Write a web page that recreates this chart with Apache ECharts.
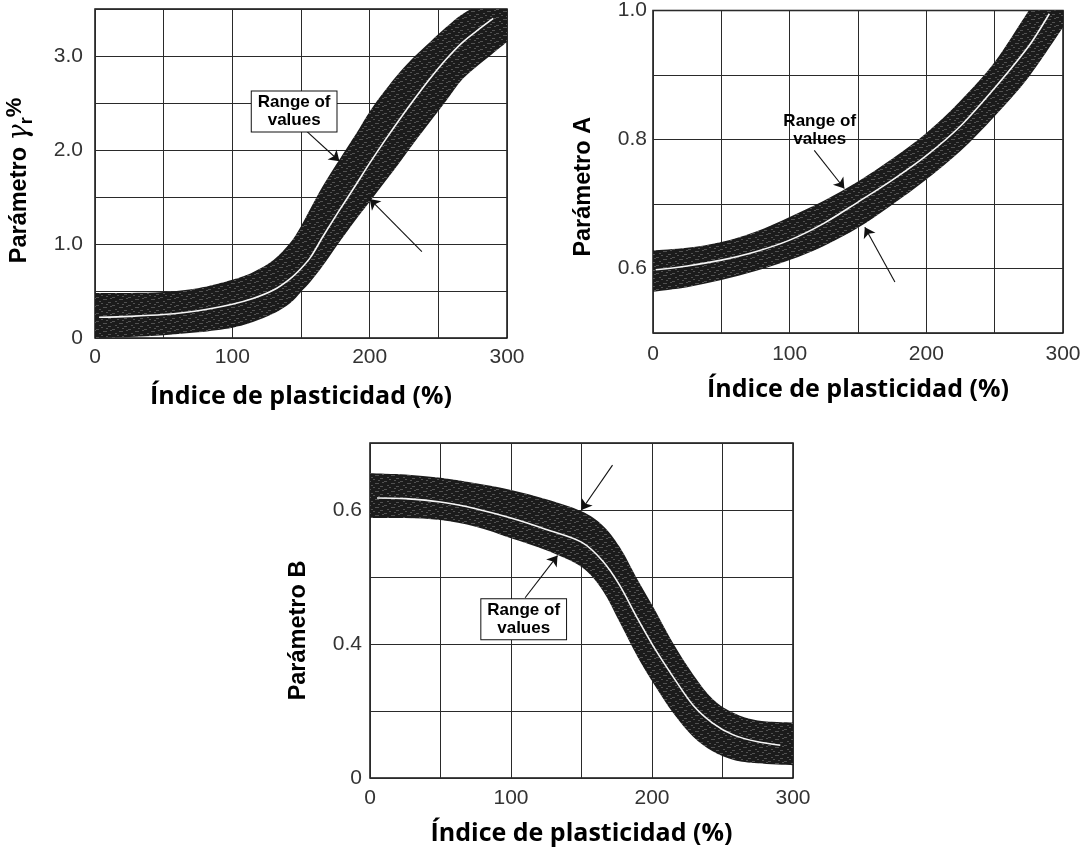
<!DOCTYPE html>
<html>
<head>
<meta charset="utf-8">
<script src="https://cdn.jsdelivr.net/npm/echarts@6/dist/echarts.min.js"></script>
<style>
  html, body { margin: 0; padding: 0; background: #ffffff; }
  #chart { width: 1084px; height: 850px; }
</style>
</head>
<body>
<div id="chart"></div>
<script>
// ---- Parámetro γr (%) vs plasticity index ----
const PI_BAND_G = [0, 25, 50, 75, 100, 115, 130, 142, 150, 157, 166, 178, 190, 200, 211, 222, 233, 244, 256, 268, 284, 300];
const GAMMA_UPPER = [0.48, 0.48, 0.49, 0.53, 0.62, 0.70, 0.83, 1.01, 1.19, 1.38, 1.62, 1.90, 2.17, 2.41, 2.63, 2.83, 3.00, 3.15, 3.31, 3.45, 3.57, 3.65];
const GAMMA_LOWER = [0.00, 0.01, 0.03, 0.06, 0.11, 0.17, 0.26, 0.37, 0.49, 0.60, 0.77, 1.02, 1.26, 1.45, 1.66, 1.87, 2.09, 2.30, 2.53, 2.76, 2.96, 3.15];
const PI_MID_G = [3, 25, 50, 75, 100, 115, 130, 142, 150, 157, 166, 178, 190, 200, 211, 222, 233, 244, 256, 268, 280, 290];
const GAMMA_MID = [0.22, 0.23, 0.25, 0.29, 0.36, 0.42, 0.51, 0.63, 0.74, 0.86, 1.08, 1.36, 1.63, 1.86, 2.10, 2.33, 2.55, 2.76, 2.97, 3.15, 3.29, 3.40];

// ---- Parámetro A vs plasticity index ----
const PI_BAND_A = [0, 25, 50, 75, 100, 125, 150, 175, 200, 225, 250, 275, 300];
const A_UPPER = [0.628, 0.632, 0.641, 0.657, 0.680, 0.705, 0.735, 0.770, 0.810, 0.860, 0.920, 1.000, 1.075];
const A_LOWER = [0.564, 0.571, 0.582, 0.596, 0.613, 0.635, 0.663, 0.699, 0.738, 0.782, 0.836, 0.897, 0.974];
const PI_MID_A = [2, 25, 50, 75, 100, 125, 150, 175, 200, 225, 250, 275, 290];
const A_MID = [0.598, 0.604, 0.613, 0.626, 0.644, 0.670, 0.703, 0.737, 0.775, 0.821, 0.880, 0.945, 0.995];

// ---- Parámetro B vs plasticity index ----
const PI_BAND_B = [0, 25, 50, 75, 100, 125, 150, 165, 177, 190, 202, 215, 229, 243, 258, 275, 300];
const B_UPPER = [0.655, 0.653, 0.648, 0.640, 0.630, 0.616, 0.598, 0.577, 0.545, 0.495, 0.451, 0.401, 0.355, 0.318, 0.297, 0.286, 0.283];
const B_LOWER = [0.588, 0.588, 0.585, 0.575, 0.558, 0.540, 0.515, 0.480, 0.433, 0.380, 0.338, 0.297, 0.262, 0.240, 0.227, 0.222, 0.219];
const PI_MID_B = [5, 25, 50, 75, 100, 125, 150, 165, 177, 190, 202, 215, 229, 243, 258, 275, 291];
const B_MID = [0.618, 0.617, 0.612, 0.602, 0.588, 0.571, 0.552, 0.524, 0.488, 0.437, 0.393, 0.351, 0.309, 0.282, 0.264, 0.254, 0.249];

// ---- tick labels: [axis value, printed text] ----
const X_TICK_LABELS = [[0, '0'], [100, '100'], [200, '200'], [300, '300']];
const GAMMA_TICK_LABELS = [[0, '0'], [1, '1.0'], [2, '2.0'], [3, '3.0']];
const A_TICK_LABELS = [[0.6, '0.6'], [0.8, '0.8'], [1.0, '1.0']];
const B_TICK_LABELS = [[0.2, '0'], [0.4, '0.4'], [0.6, '0.6']];

// ---- annotations (data coordinates) ----
const NOTE_TEXT = 'Range of\nvalues';
const NOTE_G = [145, 2.41];
const ARROWS_G = [[[154, 2.20], [178, 1.88]], [[238, 0.92], [200, 1.48]]];
const NOTE_A = [122, 0.814];
const ARROWS_A = [[[118, 0.783], [140, 0.724]], [[177, 0.579], [155, 0.664]]];
const NOTE_B = [109, 0.437];
const ARROWS_B = [[[110, 0.469], [133, 0.532]], [[172, 0.667], [150, 0.600]]];

const X_TITLE = 'Índice de plasticidad (%)';

// grainy dark fill for the range band
function bandPattern() {
  const c = document.createElement('canvas');
  c.width = 16; c.height = 8;
  const ctx = c.getContext('2d');
  ctx.fillStyle = '#1b1b1b';
  ctx.fillRect(0, 0, 16, 8);
  ctx.fillStyle = 'rgba(125,125,125,0.55)';
  [[0, 1, 3, 1], [7, 3, 4, 1], [12, 6, 3, 1], [3, 5, 2, 1], [10, 0, 2, 1], [5, 7, 2, 1], [14, 2, 2, 1]]
    .forEach(r => ctx.fillRect(r[0], r[1], r[2], r[3]));
  return { image: c, repeat: 'repeat' };
}
const BAND_FILL = bandPattern();

const pairs = (xs, ys) => xs.map((x, i) => [x, ys[i]]);
const triples = (xs, lo, up) => xs.map((x, i) => [x, lo[i], up[i]]);
const labelFrom = (table) => (v) => {
  const hit = table.find(t => Math.abs(t[0] - v) < 1e-6);
  return hit ? hit[1] : '';
};

// Catmull-Rom curve through pixel points, as SVG path commands (without the initial move)
function curveThrough(pts) {
  let d = '';
  for (let i = 0; i < pts.length - 1; i++) {
    const p0 = pts[Math.max(i - 1, 0)], p1 = pts[i], p2 = pts[i + 1], p3 = pts[Math.min(i + 2, pts.length - 1)];
    const c1 = [p1[0] + (p2[0] - p0[0]) / 6, p1[1] + (p2[1] - p0[1]) / 6];
    const c2 = [p2[0] - (p3[0] - p1[0]) / 6, p2[1] - (p3[1] - p1[1]) / 6];
    d += ' C' + c1[0].toFixed(2) + ' ' + c1[1].toFixed(2) + ' ' + c2[0].toFixed(2) + ' ' + c2[1].toFixed(2) +
         ' ' + p2[0].toFixed(2) + ' ' + p2[1].toFixed(2);
  }
  return d;
}

// band between lower and upper bounds, drawn once through the axis scales
function makeBandRenderer(bandData) {
  return function (params, api) {
    if (params.dataIndex !== 0) return null;
    const up = bandData.map(r => api.coord([r[0], r[2]]));
    const lo = bandData.map(r => api.coord([r[0], r[1]])).reverse();
    let path = 'M' + up[0][0].toFixed(2) + ' ' + up[0][1].toFixed(2) + curveThrough(up);
    path += ' L' + lo[0][0].toFixed(2) + ' ' + lo[0][1].toFixed(2) + curveThrough(lo) + ' Z';
    const cs = params.coordSys;
    return {
      type: 'group',
      clipPath: { type: 'rect', shape: { x: cs.x, y: cs.y, width: cs.width, height: cs.height } },
      children: [{ type: 'path', shape: { pathData: path }, style: { fill: BAND_FILL, stroke: null } }]
    };
  };
}

const AXIS_LABEL_FONT = { fontFamily: 'Liberation Sans, Arial, sans-serif', fontSize: 21, color: '#333' };
const GRID_LINE = { show: true, lineStyle: { color: '#2a2a2a', width: 1 } };

function xAxisFor(gridIndex, labelMargin, nameGap) {
  return {
    type: 'value', gridIndex, min: 0, max: 300, interval: 50,
    axisLine: { show: false }, axisTick: { show: false },
    splitLine: GRID_LINE,
    axisLabel: Object.assign({ margin: labelMargin, showMinLabel: true, showMaxLabel: true,
      formatter: labelFrom(X_TICK_LABELS) }, AXIS_LABEL_FONT),
    name: X_TITLE, nameLocation: 'middle', nameGap,
    nameTextStyle: { fontFamily: 'Open Sans, sans-serif', fontWeight: 'bold', fontSize: 25, color: '#000' }
  };
}

function yAxisFor(gridIndex, min, max, interval, table, labelMargin, name, nameGap, shiftDown, rich) {
  return {
    type: 'value', gridIndex, min, max, interval,
    axisLine: { show: false }, axisTick: { show: false },
    splitLine: GRID_LINE,
    axisLabel: Object.assign({ margin: labelMargin, showMinLabel: true, showMaxLabel: true,
      formatter: labelFrom(table) }, AXIS_LABEL_FONT),
    name, nameLocation: 'middle', nameGap, nameRotate: 90,
    nameTextStyle: Object.assign({ fontFamily: 'Liberation Sans, Arial, sans-serif', fontWeight: 'bold',
      fontSize: 23.5, color: '#000', padding: [0, shiftDown * 2, 0, 0] }, rich ? { rich } : {})
  };
}

function bandSeries(idx, xs, up, lo, mid, arrows) {
  const bandData = triples(xs, lo, up);
  return [
    {
      type: 'custom', xAxisIndex: idx, yAxisIndex: idx, silent: true, z: 2,
      encode: { x: 0, y: [1, 2] },
      data: bandData,
      renderItem: makeBandRenderer(bandData)
    },
    {
      type: 'line', xAxisIndex: idx, yAxisIndex: idx, smooth: 0.3, z: 5,
      symbol: 'none', lineStyle: { color: '#f6f6f6', width: 1.6 }, silent: true,
      data: pairs(mid.x, mid.y),
      markLine: {
        silent: true, symbol: ['none', 'arrow'], symbolSize: 10,
        lineStyle: { color: '#111', width: 1.1, type: 'solid' },
        label: { show: false },
        data: arrows.map(a => [{ coord: a[0] }, { coord: a[1] }])
      }
    }
  ];
}

function noteSeries(idx, at, boxed) {
  return {
    type: 'scatter', xAxisIndex: idx, yAxisIndex: idx, z: 10, silent: true,
    symbolSize: 1, itemStyle: { color: '#fff', opacity: 1 },
    data: [at],
    label: {
      show: true, position: 'inside', formatter: NOTE_TEXT,
      fontFamily: 'Liberation Sans, Arial, sans-serif', fontSize: 17, fontWeight: 'bold', lineHeight: 18,
      color: '#000', opacity: 1, textBorderWidth: 0, textBorderColor: 'transparent', align: 'center',
      backgroundColor: boxed ? '#fff' : 'transparent',
      borderColor: boxed ? '#111' : 'transparent', borderWidth: boxed ? 1 : 0,
      padding: boxed ? [2, 6, 2, 6] : 0
    }
  };
}

const chart = echarts.init(document.getElementById('chart'), null, { renderer: 'canvas' });

chart.setOption({
  animation: false,
  backgroundColor: '#fff',
  grid: [
    { left: 95, top: 9, width: 412, height: 329, show: true, borderColor: '#111', borderWidth: 1.5 },
    { left: 653, top: 10, width: 410, height: 323, show: true, borderColor: '#111', borderWidth: 1.5 },
    { left: 370, top: 443, width: 423, height: 335, show: true, borderColor: '#111', borderWidth: 1.5 }
  ],
  xAxis: [
    xAxisFor(0, 9, 46),
    xAxisFor(1, 11, 44),
    xAxisFor(2, 10, 43)
  ],
  yAxis: [
    yAxisFor(0, 0, 3.5, 0.5, GAMMA_TICK_LABELS, 12, 'Parámetro {g|γ}{sub|r}{sup|%}', 59, 7, {
      g: { fontFamily: 'DejaVu Serif, serif', fontStyle: 'italic', fontWeight: 'normal', fontSize: 27, color: '#000' },
      sub: { fontFamily: 'Liberation Sans, Arial, sans-serif', fontWeight: 'bold', fontSize: 18, color: '#000', verticalAlign: 'bottom', lineHeight: 32 },
      sup: { fontFamily: 'Liberation Sans, Arial, sans-serif', fontWeight: 'bold', fontSize: 22, color: '#000', verticalAlign: 'top', lineHeight: 32 }
    }),
    yAxisFor(1, 0.5, 1.0, 0.1, A_TICK_LABELS, 6, 'Parámetro A', 57, 15),
    yAxisFor(2, 0.2, 0.7, 0.1, B_TICK_LABELS, 8, 'Parámetro B', 59, 20)
  ],
  series: [
    ...bandSeries(0, PI_BAND_G, GAMMA_UPPER, GAMMA_LOWER, { x: PI_MID_G, y: GAMMA_MID }, ARROWS_G),
    ...bandSeries(1, PI_BAND_A, A_UPPER, A_LOWER, { x: PI_MID_A, y: A_MID }, ARROWS_A),
    ...bandSeries(2, PI_BAND_B, B_UPPER, B_LOWER, { x: PI_MID_B, y: B_MID }, ARROWS_B),
    noteSeries(0, NOTE_G, true),
    noteSeries(1, NOTE_A, false),
    noteSeries(2, NOTE_B, true)
  ]
});
</script>
</body>
</html>
